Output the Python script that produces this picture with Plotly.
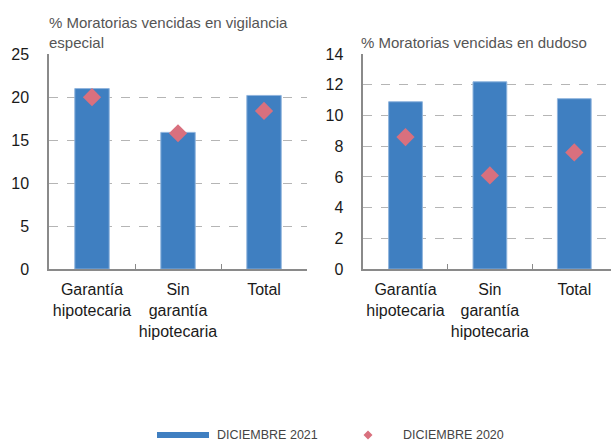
import plotly.graph_objects as go
from plotly.subplots import make_subplots

BLUE = "#3f7fc1"
PINK = "#d9707e"
AXIS = "#8a8a8a"
GRID = "#b5b5b5"
TEXT = "#1a1a1a"
MUTED = "#555555"
FONT = "Liberation Sans"

categories = ["Garantía<br>hipotecaria", "Sin<br>garantía<br>hipotecaria", "Total"]

vigilancia_2021 = [21.0, 15.9, 20.2]
vigilancia_2020 = [20.0, 15.8, 18.4]
dudoso_2021 = [10.9, 12.2, 11.1]
dudoso_2020 = [8.6, 6.1, 7.6]

left_ticks = [0, 5, 10, 15, 20, 25]
right_ticks = [0, 2, 4, 6, 8, 10, 12, 14]

fig = make_subplots(rows=1, cols=2)

for col, bars, pts in [(1, vigilancia_2021, vigilancia_2020), (2, dudoso_2021, dudoso_2020)]:
    fig.add_trace(go.Bar(x=categories, y=bars, name="DICIEMBRE 2021", width=0.4,
                         marker=dict(color=BLUE, line=dict(color="#8fb4dd", width=1)),
                         showlegend=False), row=1, col=col)
    fig.add_trace(go.Scatter(x=categories, y=pts, name="DICIEMBRE 2020", mode="markers",
                             marker=dict(symbol="diamond", color=PINK, size=14),
                             showlegend=False), row=1, col=col)

fig.update_layout(
    width=611, height=444,
    margin=dict(l=0, r=0, t=0, b=0),
    paper_bgcolor="white", plot_bgcolor="white",
    font=dict(family=FONT, color=TEXT, size=15),
)

xcommon = dict(showline=True, linecolor=AXIS, linewidth=1.5, ticks="inside", tickson="boundaries",
               ticklen=5, tickcolor=AXIS, showgrid=False, tickfont=dict(size=16, color=TEXT),
               tickangle=0, ticklabelstandoff=5, automargin=False)
fig.update_xaxes(domain=[0.0802, 0.5025], range=[-0.5, 2.5], **xcommon, row=1, col=1)
fig.update_xaxes(domain=[0.5946, 1.0], range=[-0.5, 2.435], **xcommon, row=1, col=2)

ycommon = dict(showline=True, linecolor=AXIS, linewidth=1.5, showgrid=True, gridcolor=GRID,
               griddash="dash", gridwidth=1, zeroline=False, ticks="", automargin=False,
               tickfont=dict(size=16, color=TEXT), domain=[0.394, 0.878])
fig.update_yaxes(range=[0, 25], tickvals=left_ticks, ticklabelstandoff=15, **ycommon, row=1, col=1)
fig.update_yaxes(range=[0, 14], tickvals=right_ticks, ticklabelstandoff=15, **ycommon, row=1, col=2)

fig.add_annotation(text="% Moratorias vencidas en vigilancia<br>especial", xref="paper", yref="paper",
                   x=47 / 611, y=1 - 12 / 444, xanchor="left", yanchor="top", align="left",
                   showarrow=False, font=dict(size=15, color=MUTED))
fig.add_annotation(text="% Moratorias vencidas en dudoso", xref="paper", yref="paper",
                   x=359 / 611, y=1 - 32 / 444, xanchor="left", yanchor="top", align="left",
                   showarrow=False, font=dict(size=15, color=MUTED))

# legend drawn by hand: thick blue line + small diamond
ly = 1 - 435 / 444
fig.add_shape(type="rect", xref="paper", yref="paper", x0=157 / 611, x1=209 / 611,
              y0=ly - 3 / 444, y1=ly + 3 / 444, fillcolor=BLUE, line=dict(width=0))
fig.add_annotation(text="DICIEMBRE 2021", xref="paper", yref="paper", x=215 / 611, y=ly,
                   xanchor="left", yanchor="middle", showarrow=False,
                   font=dict(size=12.5, color="#444444"))
cx, cy, d = 368, 435, 4.5
fig.add_shape(type="path", xref="paper", yref="paper",
              path=f"M {cx/611},{1-(cy-d)/444} L {(cx+d)/611},{1-cy/444} L {cx/611},{1-(cy+d)/444} L {(cx-d)/611},{1-cy/444} Z",
              fillcolor=PINK, line=dict(width=0))
fig.add_annotation(text="DICIEMBRE 2020", xref="paper", yref="paper", x=401 / 611, y=ly,
                   xanchor="left", yanchor="middle", showarrow=False,
                   font=dict(size=12.5, color="#444444"))

# drop the default page margin so the figure sits at the window corner
fig.write_html("out.html", config={"displayModeBar": False},
               post_script="document.body.style.margin='0';")
